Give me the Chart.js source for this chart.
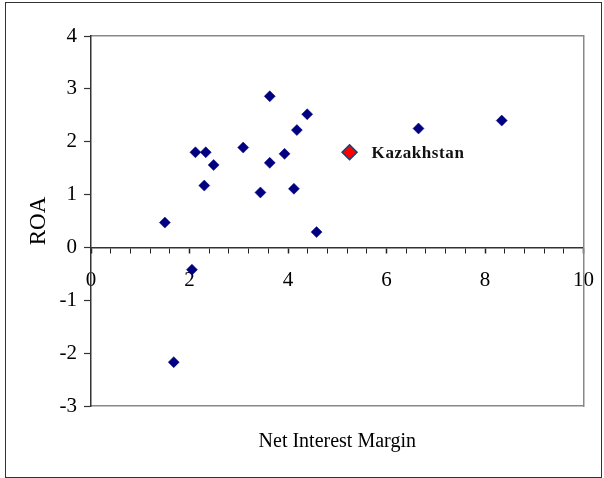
<!DOCTYPE html>
<html>
<head>
<meta charset="utf-8">
<script src="https://cdn.jsdelivr.net/npm/chart.js@4/dist/chart.umd.min.js"></script>
<style>
  html, body { margin: 0; padding: 0; background: #fff; overflow: hidden; }
  #wrap { position: relative; width: 604px; height: 478px; }
  #c { position: absolute; left: 0; top: 0; }
  #frame { position: absolute; left: 5px; top: 2px; width: 595px; height: 474px;
           border: 1px solid #333; pointer-events: none; }
</style>
</head>
<body>
<div id="wrap">
  <canvas id="c" width="604" height="478"></canvas>
  <div id="frame"></div>
</div>
<script>
// ---- data ----
const nimValues = [1.50, 1.68, 2.05, 2.12, 2.33, 2.30, 2.49, 3.09, 3.44, 3.63, 3.63, 3.93, 4.12, 4.18, 4.39, 4.58, 6.65, 8.34];
const roaValues = [0.47, -2.17, -0.42, 1.80, 1.80, 1.17, 1.56, 1.89, 1.04, 2.86, 1.60, 1.77, 1.11, 2.22, 2.52, 0.29, 2.25, 2.40];
const highlightName = 'Kazakhstan';
const highlightNim = [5.25];
const highlightRoa = [1.80];
const xTickMajor = [0, 2, 4, 6, 8, 10];
const yTicks = [-3, -2, -1, 0, 1, 2, 3, 4];
const xTitle = 'Net Interest Margin';
const yTitle = 'ROA';

const serif = '"Liberation Serif", "Times New Roman", serif';

const labelPlugin = {
  id: 'highlightLabel',
  afterDatasetsDraw(chart) {
    const meta = chart.getDatasetMeta(1);
    const ctx = chart.ctx;
    ctx.save();
    ctx.font = 'bold 17px ' + serif;
    try { ctx.letterSpacing = '0.6px'; } catch (e) {}
    ctx.fillStyle = '#111';
    ctx.textBaseline = 'middle';
    ctx.textAlign = 'left';
    meta.data.forEach(pt => {
      ctx.fillText(highlightName, pt.x + 22, pt.y + 1);
    });
    ctx.restore();
  }
};

const isMajor = v => Math.abs(v / 2 - Math.round(v / 2)) < 1e-9;
const noSidePad = s => { s.paddingLeft = 0; s.paddingRight = 0; };

new Chart(document.getElementById('c'), {
  type: 'scatter',
  data: {
    datasets: [
      {
        label: 'Countries',
        data: nimValues.map((x, i) => ({ x: x, y: roaValues[i] })),
        pointStyle: 'rectRot',
        pointRadius: 5.5,
        pointBackgroundColor: '#000080',
        pointBorderColor: '#000080',
        pointBorderWidth: 0.5
      },
      {
        label: highlightName,
        data: highlightNim.map((x, i) => ({ x: x, y: highlightRoa[i] })),
        pointStyle: 'rectRot',
        pointRadius: 7.5,
        pointBackgroundColor: '#ff0000',
        pointBorderColor: '#1f3f6f',
        pointBorderWidth: 1.5
      }
    ]
  },
  options: {
    responsive: false,
    animation: false,
    events: [],
    layout: { padding: { top: 36, right: 20.5, bottom: 0, left: 0 } },
    plugins: { legend: { display: false }, tooltip: { enabled: false } },
    scales: {
      x: {
        type: 'linear', position: 'bottom', min: 0, max: 10,
        afterFit(s) { s.height = 72; noSidePad(s); },
        ticks: { display: false },
        grid: { display: true, drawOnChartArea: false, drawTicks: false },
        border: { display: true, color: '#888', width: 1.5 },
        title: { display: true, text: xTitle, color: '#000',
                 font: { family: serif, size: 20 }, padding: { top: 0, bottom: 24 } }
      },
      x2: {
        type: 'linear', position: { y: 0 }, min: 0, max: 10,
        afterFit(s) { noSidePad(s); },
        afterBuildTicks(s) {
          const t = [];
          for (let i = 0; i <= 25; i++) t.push({ value: +(i * 0.4).toFixed(1) });
          s.ticks = t;
        },
        ticks: {
          autoSkip: false, maxRotation: 0, padding: 15,
          color: '#000', font: { family: serif, size: 21 },
          callback: v => (isMajor(v) && xTickMajor.includes(Math.round(v))) ? String(Math.round(v)) : ''
        },
        grid: { drawOnChartArea: false, drawTicks: true, tickLength: 5, tickColor: '#222',
                tickWidth: c => (c.tick && isMajor(c.tick.value)) ? 1.5 : 1 },
        border: { display: true, color: '#333', width: 1.5 }
      },
      xTop: {
        type: 'linear', position: 'top', min: 0, max: 10,
        afterFit(s) { s.height = 0; noSidePad(s); },
        ticks: { display: false },
        grid: { drawOnChartArea: false, drawTicks: false },
        border: { display: true, color: '#888', width: 1.5 }
      },
      y: {
        type: 'linear', position: 'left', min: -3, max: 4,
        afterFit(s) { s.width = 91; },
        afterBuildTicks(s) { s.ticks = yTicks.map(v => ({ value: v })); },
        ticks: { color: '#000', padding: 7, font: { family: serif, size: 21 } },
        grid: { drawOnChartArea: false, drawTicks: true, tickLength: 7, tickColor: '#333', tickWidth: 1.2 },
        border: { display: true, color: '#333', width: 1.5 },
        title: { display: true, text: yTitle, color: '#000',
                 font: { family: serif, size: 23 }, padding: { top: 25, bottom: 0 } }
      },
      yRight: {
        type: 'linear', position: 'right', min: -3, max: 4,
        afterFit(s) { s.width = 0; },
        ticks: { display: false },
        grid: { drawOnChartArea: false, drawTicks: false },
        border: { display: true, color: '#888', width: 1.5 }
      }
    }
  },
  plugins: [labelPlugin]
});
</script>
</body>
</html>
